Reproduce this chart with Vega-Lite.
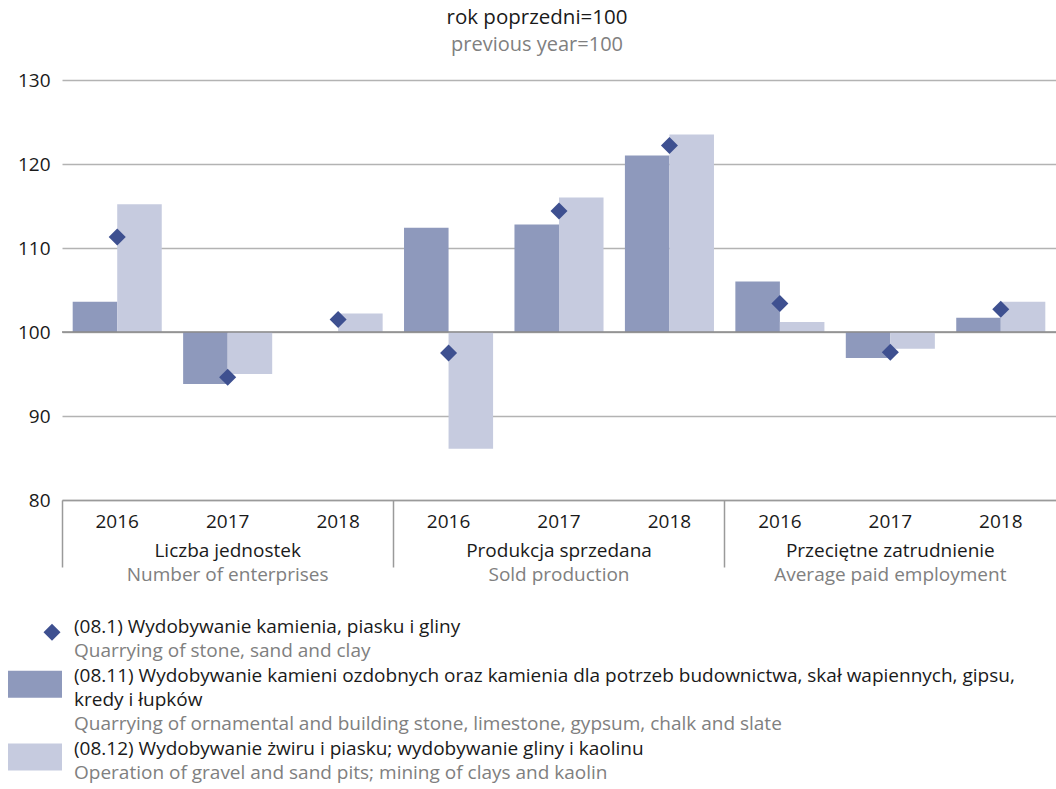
{
  "$schema": "https://vega.github.io/schema/vega-lite/v6.json",
  "padding": {"left": 8, "top": 7, "right": 0, "bottom": 0},
  "background": "white",
  "config": {
    "font": "Open Sans",
    "view": {"stroke": null},
    "concat": {"spacing": 31}
  },
  "title": {
    "text": "rok poprzedni=100",
    "subtitle": "previous year=100",
    "anchor": "middle",
    "frame": "group",
    "dx": -22,
    "fontSize": 20.5,
    "fontWeight": "normal",
    "color": "#1a1a1a",
    "subtitleColor": "#808080",
    "subtitleFontSize": 20,
    "subtitlePadding": 7,
    "offset": 16
  },
  "datasets": {
    "main": [
      {"cat": "Liczba jednostek|Number of enterprises|2016", "series": "08.11", "value": 103.6},
      {"cat": "Liczba jednostek|Number of enterprises|2016", "series": "08.12", "value": 115.2},
      {"cat": "Liczba jednostek|Number of enterprises|2016", "series": "08.1", "value": 111.3},
      {"cat": "Liczba jednostek|Number of enterprises|2017", "series": "08.11", "value": 93.8},
      {"cat": "Liczba jednostek|Number of enterprises|2017", "series": "08.12", "value": 95.0},
      {"cat": "Liczba jednostek|Number of enterprises|2017", "series": "08.1", "value": 94.6},
      {"cat": "Liczba jednostek|Number of enterprises|2018", "series": "08.11", "value": 100.0},
      {"cat": "Liczba jednostek|Number of enterprises|2018", "series": "08.12", "value": 102.2},
      {"cat": "Liczba jednostek|Number of enterprises|2018", "series": "08.1", "value": 101.5},
      {"cat": "Produkcja sprzedana|Sold production|2016", "series": "08.11", "value": 112.4},
      {"cat": "Produkcja sprzedana|Sold production|2016", "series": "08.12", "value": 86.1},
      {"cat": "Produkcja sprzedana|Sold production|2016", "series": "08.1", "value": 97.5},
      {"cat": "Produkcja sprzedana|Sold production|2017", "series": "08.11", "value": 112.8},
      {"cat": "Produkcja sprzedana|Sold production|2017", "series": "08.12", "value": 116.0},
      {"cat": "Produkcja sprzedana|Sold production|2017", "series": "08.1", "value": 114.4},
      {"cat": "Produkcja sprzedana|Sold production|2018", "series": "08.11", "value": 121.0},
      {"cat": "Produkcja sprzedana|Sold production|2018", "series": "08.12", "value": 123.5},
      {"cat": "Produkcja sprzedana|Sold production|2018", "series": "08.1", "value": 122.2},
      {"cat": "Przeciętne zatrudnienie|Average paid employment|2016", "series": "08.11", "value": 106.0},
      {"cat": "Przeciętne zatrudnienie|Average paid employment|2016", "series": "08.12", "value": 101.2},
      {"cat": "Przeciętne zatrudnienie|Average paid employment|2016", "series": "08.1", "value": 103.4},
      {"cat": "Przeciętne zatrudnienie|Average paid employment|2017", "series": "08.11", "value": 96.9},
      {"cat": "Przeciętne zatrudnienie|Average paid employment|2017", "series": "08.12", "value": 98.0},
      {"cat": "Przeciętne zatrudnienie|Average paid employment|2017", "series": "08.1", "value": 97.6},
      {"cat": "Przeciętne zatrudnienie|Average paid employment|2018", "series": "08.11", "value": 101.7},
      {"cat": "Przeciętne zatrudnienie|Average paid employment|2018", "series": "08.12", "value": 103.6},
      {"cat": "Przeciętne zatrudnienie|Average paid employment|2018", "series": "08.1", "value": 102.7}
    ],
    "legendText": [
      {"line": 1, "lang": "pl", "txt": "(08.1) Wydobywanie kamienia, piasku i gliny"},
      {"line": 2, "lang": "en", "txt": "Quarrying of stone, sand and clay"},
      {"line": 3, "lang": "pl", "txt": "(08.11) Wydobywanie kamieni ozdobnych oraz kamienia dla potrzeb budownictwa, skał wapiennych, gipsu,"},
      {"line": 4, "lang": "pl", "txt": "kredy i łupków"},
      {"line": 5, "lang": "en", "txt": "Quarrying of ornamental and building stone, limestone, gypsum, chalk and slate"},
      {"line": 6, "lang": "pl", "txt": "(08.12) Wydobywanie żwiru i piasku; wydobywanie gliny i kaolinu"},
      {"line": 7, "lang": "en", "txt": "Operation of gravel and sand pits; mining of clays and kaolin"}
    ],
    "legendSymbols": [
      {"line": 1, "series": "08.1"},
      {"line": 3, "series": "08.11"},
      {"line": 6, "series": "08.12"}
    ]
  },
  "vconcat": [
    {
      "width": 994,
      "height": 420,
      "data": {"name": "main"},
      "layer": [
        {
          "transform": [{"filter": "datum.series != '08.1'"}],
          "mark": {"type": "bar", "orient": "vertical"},
          "encoding": {
            "x": {
              "field": "cat", "type": "nominal", "sort": null,
              "scale": {"paddingInner": 0, "paddingOuter": 0},
              "axis": {
                "orient": "bottom", "title": null, "labelAngle": 0,
                "labelExpr": "split(datum.label, '|')[2]",
                "ticks": false, "domain": true, "domainColor": "#9a9a9a", "domainWidth": 1.5,
                "labelFontSize": 19, "labelColor": "#1a1a1a", "labelBaseline": "middle",
                "labelPadding": 21, "grid": false
              }
            },
            "xOffset": {"field": "series", "type": "nominal", "scale": {"paddingOuter": 0.24, "paddingInner": 0}},
            "y": {
              "field": "value", "type": "quantitative",
              "scale": {"domain": [80, 130], "nice": false, "zero": false},
              "axis": {
                "values": [80, 90, 100, 110, 120, 130], "title": null,
                "domain": false, "ticks": false, "grid": true,
                "gridColor": "#b3b3b3", "gridWidth": 1.5,
                "labelFontSize": 19, "labelColor": "#1a1a1a", "labelPadding": 12
              }
            },
            "y2": {"datum": 100},
            "color": {
              "field": "series", "type": "nominal",
              "scale": {"domain": ["08.11", "08.12"], "range": ["#8e99bc", "#c6cbdf"]},
              "legend": null
            }
          }
        },
        {
          "data": {"values": [{}]},
          "mark": {"type": "rule", "color": "#8a8a8a", "strokeWidth": 1.5},
          "encoding": {"y": {"datum": 100}}
        },
        {
          "transform": [{"filter": "datum.series == '08.1'"}],
          "mark": {"type": "point", "shape": "diamond", "filled": true, "color": "#3e5090", "opacity": 1, "size": 290},
          "encoding": {
            "x": {
              "field": "cat", "type": "nominal", "sort": null,
              "axis": {
                "orient": "bottom", "title": null, "labelAngle": 0,
                "labelExpr": "split(datum.label, '|')[2] == '2017' ? split(datum.label, '|')[0] : ''",
                "ticks": false, "domain": false, "grid": false,
                "labelOverlap": false, "labelLimit": 0,
                "labelFontSize": 19, "labelColor": "#1a1a1a", "labelBaseline": "middle",
                "labelPadding": 50
              }
            },
            "y": {"field": "value", "type": "quantitative"}
          }
        },
        {
          "transform": [{"filter": "datum.series == '08.1'"}],
          "mark": {"type": "point", "opacity": 0},
          "encoding": {
            "x": {
              "field": "cat", "type": "nominal", "sort": null,
              "axis": {
                "orient": "bottom", "title": null, "labelAngle": 0,
                "labelExpr": "split(datum.label, '|')[2] == '2017' ? split(datum.label, '|')[1] : ''",
                "ticks": false, "domain": false, "grid": false,
                "labelOverlap": false, "labelLimit": 0,
                "labelFontSize": 19, "labelColor": "#808080", "labelBaseline": "middle",
                "labelPadding": 74
              }
            },
            "y": {"field": "value", "type": "quantitative"}
          }
        },
        {
          "transform": [{"filter": "datum.series == '08.1'"}],
          "mark": {"type": "point", "opacity": 0},
          "encoding": {
            "x": {
              "field": "cat", "type": "nominal", "sort": null,
              "axis": {
                "orient": "bottom", "title": null, "labels": false,
                "bandPosition": 0, "domain": false, "grid": false,
                "ticks": true, "tickSize": 67, "tickColor": "#9a9a9a", "tickWidth": 1.5,
                "tickOpacity": {"condition": {"test": "datum.value == 'Liczba jednostek|Number of enterprises|2016' || datum.value == 'Produkcja sprzedana|Sold production|2016' || datum.value == 'Przeciętne zatrudnienie|Average paid employment|2016'", "value": 1}, "value": 0}
              }
            },
            "y": {"field": "value", "type": "quantitative"}
          }
        }
      ],
      "resolve": {"axis": {"x": "independent"}}
    },
    {
      "width": 994,
      "height": 170,
      "layer": [
        {
          "data": {"name": "legendText"},
          "mark": {"type": "text", "align": "left", "baseline": "middle", "fontSize": 19, "x": 12},
          "encoding": {
            "y": {"field": "line", "type": "ordinal", "axis": null, "scale": {"type": "band", "paddingInner": 0, "paddingOuter": 0}},
            "text": {"field": "txt"},
            "color": {"condition": {"test": "datum.lang == 'en'", "value": "#808080"}, "value": "#1a1a1a"}
          }
        },
        {
          "data": {"name": "legendSymbols"},
          "transform": [{"filter": "datum.series != '08.1'"}],
          "mark": {"type": "bar", "x": -54, "x2": 0, "height": 27, "yOffset": 8.5},
          "encoding": {
            "y": {"field": "line", "type": "ordinal", "axis": null},
            "fill": {"field": "series", "type": "nominal", "scale": {"domain": ["08.11", "08.12"], "range": ["#8e99bc", "#c6cbdf"]}, "legend": null}
          }
        },
        {
          "data": {"name": "legendSymbols"},
          "transform": [{"filter": "datum.series == '08.1'"}],
          "mark": {"type": "point", "shape": "diamond", "filled": true, "color": "#3e5090", "opacity": 1, "size": 290, "x": -10, "yOffset": 5},
          "encoding": {
            "y": {"field": "line", "type": "ordinal", "axis": null}
          }
        }
      ]
    }
  ]
}
